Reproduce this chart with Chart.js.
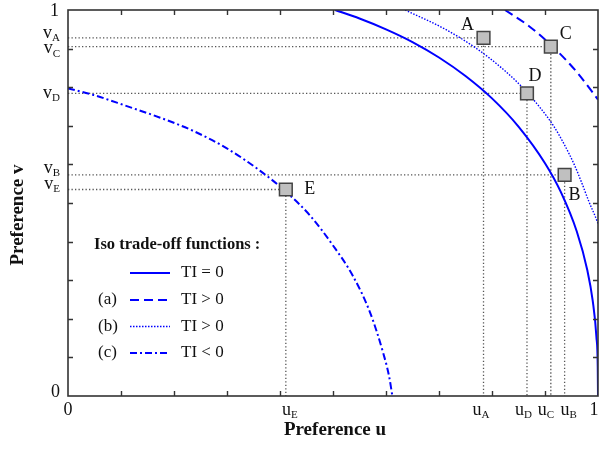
<!DOCTYPE html>
<html>
<head>
<meta charset="utf-8">
<script src="https://cdn.jsdelivr.net/npm/chart.js@4"></script>
<style>
html, body { margin: 0; padding: 0; background: #fff; overflow: hidden; }
canvas { display: block; }
</style>
</head>
<body>
<canvas id="chart" width="602" height="450"></canvas>
<script>
// marked points A..E (u, v)
const pointNames = ['A', 'B', 'C', 'D', 'E'];
const pointU = [0.784, 0.937, 0.911, 0.866, 0.411];
const pointV = [0.928, 0.573, 0.905, 0.784, 0.535];

// iso trade-off curves
const tiZeroU = [0.504, 0.55, 0.6, 0.65, 0.7, 0.75, 0.8, 0.85, 0.9, 0.93, 0.96, 0.98, 0.99, 0.997, 0.9995, 1];
const tiZeroV = [1, 0.978, 0.95, 0.917, 0.877, 0.829, 0.771, 0.698, 0.603, 0.528, 0.426, 0.325, 0.247, 0.153, 0.075, 0];

const tiPosAU = [0.8245, 0.87, 0.92, 0.962, 1];
const tiPosAV = [1, 0.958, 0.898, 0.836, 0.768];

const tiPosBU = [0.636, 0.712, 0.771, 0.818, 0.857, 0.889, 0.916, 0.937, 0.955, 0.97, 0.983, 0.994, 1];
const tiPosBV = [1, 0.95, 0.9, 0.85, 0.8, 0.75, 0.7, 0.65, 0.6, 0.55, 0.503, 0.468, 0.447];

const tiNegU = [0, 0.048, 0.111, 0.174, 0.236, 0.299, 0.362, 0.413, 0.457, 0.5, 0.538, 0.57, 0.595, 0.606, 0.612];
const tiNegV = [0.797, 0.78, 0.751, 0.721, 0.687, 0.642, 0.584, 0.527, 0.467, 0.39, 0.31, 0.216, 0.11, 0.05, 0];

const legendTags = ['', '(a)', '(b)', '(c)'];
const legendTexts = ['TI = 0', 'TI > 0', 'TI > 0', 'TI < 0'];

const serif = '"Liberation Serif", "DejaVu Serif", serif';
const BLUE = '#0000ff';

function pairs(us, vs) {
    return us.map((u, i) => ({ x: u, y: vs[i] }));
}

function curve(us, vs, width, dash) {
    return {
        data: pairs(us, vs),
        showLine: true,
        borderColor: BLUE,
        borderWidth: width,
        borderDash: dash,
        pointRadius: 0,
        cubicInterpolationMode: 'monotone',
        fill: false
    };
}

const curves = [
    curve(tiZeroU, tiZeroV, 2, []),
    curve(tiPosAU, tiPosAV, 2, [9, 5]),
    curve(tiPosBU, tiPosBV, 1.4, [1.5, 1.5]),
    curve(tiNegU, tiNegV, 2, [7, 3, 2, 3])
];

const guides = pointU.map((u, i) => ({
    data: [{ x: 0, y: pointV[i] }, { x: u, y: pointV[i] }, { x: u, y: 0 }],
    showLine: true,
    borderColor: '#555',
    borderWidth: 1.3,
    borderDash: [1.3, 2.2],
    pointRadius: 0,
    tension: 0
}));

const markers = {
    data: pairs(pointU, pointV),
    showLine: false,
    pointStyle: 'rect',
    pointRadius: 9,
    pointHoverRadius: 9,
    backgroundColor: '#c0c0c0',
    borderColor: '#444',
    borderWidth: 1.5
};

// nudges so the crowded labels don't collide
const nameOffsets = { A: [-16, -13], B: [10, 20], C: [15, -12], D: [8, -17], E: [24, 0] };
const uLabelShift = { A: -2.5, B: 4, C: -5, D: -3.5, E: 4 };
const vLabelShift = { A: -5, B: -7, C: 2, D: 0, E: -5 };

function subText(ctx, main, sub, x, y, align, dy) {
    ctx.font = '18px ' + serif;
    const w1 = ctx.measureText(main).width;
    ctx.font = '11px ' + serif;
    const w2 = sub ? ctx.measureText(sub).width : 0;
    let left = x;
    if (align === 'right') left = x - w1 - w2;
    if (align === 'center') left = x - (w1 + w2) / 2;
    ctx.textAlign = 'left';
    ctx.textBaseline = 'middle';
    ctx.font = '18px ' + serif;
    ctx.fillText(main, left, y);
    if (sub) {
        ctx.font = '11px ' + serif;
        ctx.fillText(sub, left + w1, y + dy);
    }
}

const decor = {
    id: 'decor',
    afterDraw(chart) {
        const ctx = chart.ctx;
        const a = chart.chartArea;
        const xs = chart.scales.x, ys = chart.scales.y;
        ctx.save();

        // frame with inward ticks
        ctx.strokeStyle = '#333';
        ctx.lineWidth = 1.6;
        ctx.strokeRect(a.left, a.top, a.right - a.left, a.bottom - a.top);
        ctx.lineWidth = 1.4;
        ctx.beginPath();
        xs.ticks.forEach(t => {
            if (t.value <= 0 || t.value >= 1) return;
            const px = Math.round(xs.getPixelForValue(t.value)) + 0.5;
            ctx.moveTo(px, a.bottom); ctx.lineTo(px, a.bottom - 5);
            ctx.moveTo(px, a.top); ctx.lineTo(px, a.top + 5);
        });
        ys.ticks.forEach(t => {
            if (t.value <= 0 || t.value >= 1) return;
            const py = Math.round(ys.getPixelForValue(t.value)) + 0.5;
            ctx.moveTo(a.left, py); ctx.lineTo(a.left + 5, py);
            ctx.moveTo(a.right, py); ctx.lineTo(a.right - 5, py);
        });
        ctx.stroke();

        // tick labels
        ctx.fillStyle = '#111';
        subText(ctx, '0', '', xs.getPixelForValue(0), a.bottom + 14, 'center', 0);
        subText(ctx, '1', '', xs.getPixelForValue(1) - 4, a.bottom + 14, 'center', 0);
        subText(ctx, '0', '', a.left - 8, ys.getPixelForValue(0) - 4, 'right', 0);
        subText(ctx, '1', '', a.left - 9, ys.getPixelForValue(1) + 1, 'right', 0);
        pointNames.forEach((n, i) => {
            subText(ctx, 'u', n, xs.getPixelForValue(pointU[i]) + uLabelShift[n], a.bottom + 14, 'center', 5);
            subText(ctx, 'v', n, a.left - 8, ys.getPixelForValue(pointV[i]) + vLabelShift[n], 'right', 5);
        });

        // point names
        const meta = chart.getDatasetMeta(0);
        ctx.font = '18px ' + serif;
        ctx.textAlign = 'center';
        ctx.textBaseline = 'middle';
        pointNames.forEach((n, i) => {
            const el = meta.data[i];
            const o = nameOffsets[n];
            ctx.fillText(n, el.x + o[0], el.y + o[1]);
        });

        // axis titles
        ctx.font = 'bold 19px ' + serif;
        ctx.fillText('Preference u', (a.left + a.right) / 2 + 2, 430);
        ctx.save();
        ctx.translate(18, 215);
        ctx.rotate(-Math.PI / 2);
        ctx.fillText('Preference v', 0, 0);
        ctx.restore();

        // legend
        ctx.textAlign = 'left';
        ctx.font = 'bold 16.5px ' + serif;
        ctx.fillText('Iso trade-off functions :', 94, 245);
        const rowY = [273, 300, 326.5, 353];
        legendTexts.forEach((txt, i) => {
            const ds = curves[i];
            ctx.font = '17px ' + serif;
            ctx.fillStyle = '#111';
            ctx.fillText(legendTags[i], 98, rowY[i]);
            ctx.fillText(txt, 181, rowY[i]);
            ctx.strokeStyle = ds.borderColor;
            ctx.lineWidth = ds.borderWidth;
            ctx.setLineDash(ds.borderDash);
            ctx.beginPath();
            ctx.moveTo(130, rowY[i]);
            ctx.lineTo(170, rowY[i]);
            ctx.stroke();
            ctx.setLineDash([]);
        });
        ctx.restore();
    }
};

new Chart(document.getElementById('chart'), {
    type: 'scatter',
    data: { datasets: [markers, ...curves, ...guides] },
    options: {
        responsive: false,
        animation: false,
        layout: { autoPadding: false, padding: { top: 10, right: 4, left: 0, bottom: 0 } },
        scales: {
            x: {
                type: 'linear', min: 0, max: 1,
                ticks: { stepSize: 0.1, display: false },
                grid: { display: false },
                border: { display: false },
                afterFit(s) { s.height = 54; }
            },
            y: {
                type: 'linear', min: 0, max: 1,
                ticks: { stepSize: 0.1, display: false },
                grid: { display: false },
                border: { display: false },
                afterFit(s) { s.width = 68; }
            }
        },
        plugins: {
            legend: { display: false },
            tooltip: { enabled: false }
        }
    },
    plugins: [decor]
});
</script>
</body>
</html>
